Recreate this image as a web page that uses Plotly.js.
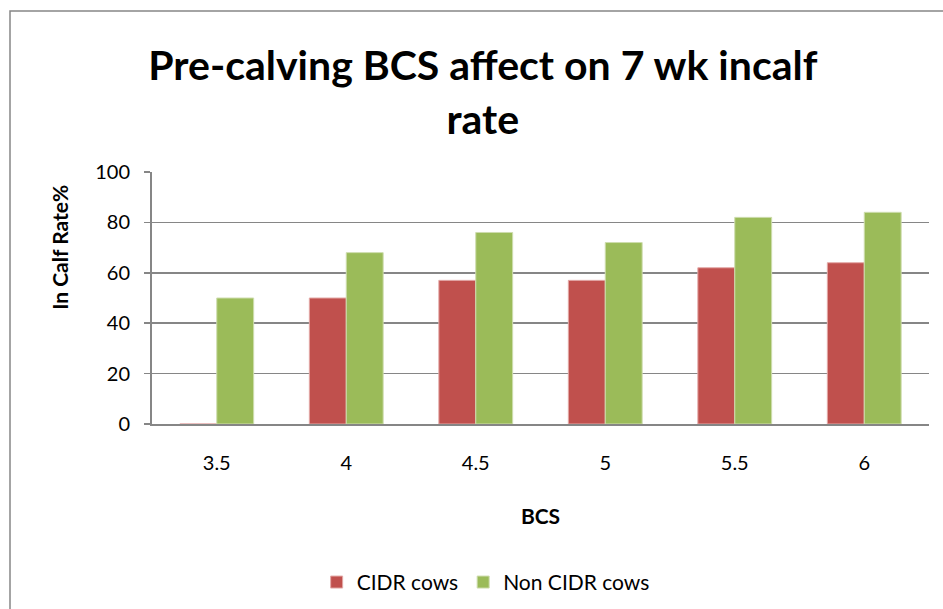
<!DOCTYPE html>
<html>
<head>
<meta charset="utf-8">
<script src="https://cdn.plot.ly/plotly-3.0.1.min.js"></script>
<style>
  html, body { margin: 0; padding: 0; background: #fff; }
  #chart { width: 943px; height: 609px; }
</style>
</head>
<body>
<div id="chart"></div>
<script>
// Body condition score groups
const bcsCategories = ['3.5', '4', '4.5', '5', '5.5', '6'];
// In-calf rate (%) at 7 weeks for each group
const cidrCows = [0, 50, 57, 57, 62, 64];
const nonCidrCows = [50, 68, 76, 72, 82, 84];
const yTickValues = [0, 20, 40, 60, 80, 100];

const FONT = 'Lato, "Open Sans", "DejaVu Sans", sans-serif';

const traces = [
  {
    type: 'bar',
    name: 'CIDR cows',
    x: bcsCategories,
    y: cidrCows,
    marker: { color: '#C0504D', line: { color: '#E3A9A7', width: 1 } }
  },
  {
    type: 'bar',
    name: 'Non CIDR cows',
    x: bcsCategories,
    y: nonCidrCows,
    marker: { color: '#9BBB59', line: { color: '#CEDDAE', width: 1 } }
  }
];

const layout = {
  width: 943,
  height: 609,
  paper_bgcolor: '#ffffff',
  plot_bgcolor: '#ffffff',
  margin: { l: 152, r: 14, t: 172, b: 185 },
  font: { family: FONT, color: '#000000', size: 20 },
  title: {
    text: 'Pre-calving BCS affect on 7 wk incalf<br>rate',
    font: { family: FONT, size: 41, color: '#000000', weight: 'bold' },
    xref: 'container',
    yref: 'container',
    x: 0.512,
    xanchor: 'center',
    y: 0.868,
    yanchor: 'top'
  },
  barmode: 'group',
  bargap: 0.43,
  bargroupgap: 0,
  xaxis: {
    type: 'category',
    showgrid: false,
    showline: true,
    linecolor: '#868686',
    linewidth: 2,
    ticks: '',
    ticklen: 0,
    ticklabelstandoff: 20,
    tickfont: { family: FONT, size: 20, color: '#000000' },
    title: {
      text: 'BCS',
      font: { family: FONT, size: 21, color: '#000000', weight: 'bold' },
      standoff: 36
    },
    fixedrange: true
  },
  yaxis: {
    range: [0, 100],
    tickvals: yTickValues,
    showgrid: true,
    gridcolor: '#868686',
    gridwidth: 1.5,
    showline: true,
    linecolor: '#868686',
    linewidth: 2,
    ticks: 'outside',
    ticklen: 6,
    tickcolor: '#868686',
    tickwidth: 1.5,
    ticklabelstandoff: 10,
    tickfont: { family: FONT, size: 20, color: '#000000' },
    zeroline: false,
    fixedrange: true
  },
  showlegend: true,
  legend: {
    orientation: 'h',
    xref: 'container',
    yref: 'container',
    x: 0.515,
    xanchor: 'center',
    y: 0.01,
    yanchor: 'bottom',
    font: { family: FONT, size: 21, color: '#000000' },
    itemwidth: 30,
    traceorder: 'normal'
  },
  annotations: [
    {
      text: 'In Calf Rate%',
      xref: 'paper',
      yref: 'paper',
      x: -0.12,
      y: 0.702,
      xanchor: 'center',
      yanchor: 'middle',
      textangle: -90,
      showarrow: false,
      font: { family: FONT, size: 21, color: '#000000', weight: 'bold' }
    }
  ],
  shapes: [
    {
      type: 'rect',
      xref: 'paper',
      yref: 'paper',
      x0: -142 / 777,
      x1: 1.2,
      y0: -1.0,
      y1: 1 + 161 / 252,
      line: { color: '#868686', width: 1.5 },
      fillcolor: 'rgba(0,0,0,0)',
      layer: 'below'
    }
  ]
};

Plotly.newPlot('chart', traces, layout, { displayModeBar: false, staticPlot: true });
</script>
</body>
</html>
